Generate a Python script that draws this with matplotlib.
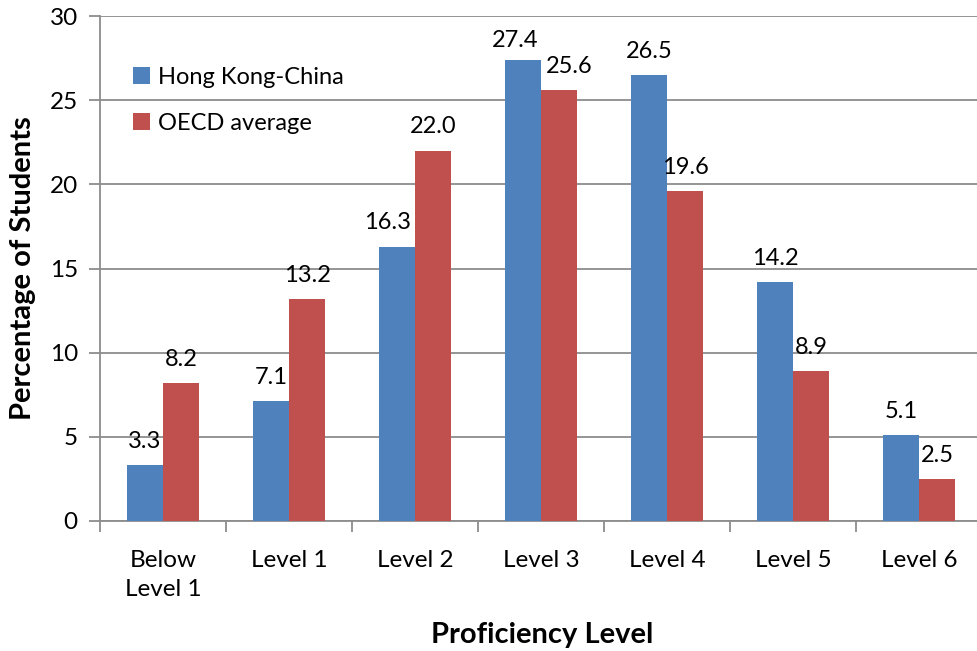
#!/usr/bin/env python3
"""Bar chart of proficiency level distribution: Hong Kong-China vs OECD average."""

import matplotlib
matplotlib.use('Agg')
from matplotlib import pyplot as plt
import numpy as np

levels = ['Below\nLevel 1', 'Level 1', 'Level 2', 'Level 3', 'Level 4', 'Level 5', 'Level 6']
hong_kong = [3.3, 7.1, 16.3, 27.4, 26.5, 14.2, 5.1]
oecd = [8.2, 13.2, 22.0, 25.6, 19.6, 8.9, 2.5]
y_ticks = [0, 5, 10, 15, 20, 25, 30]


def main():
    plt.rcParams['font.family'] = ['Lato', 'DejaVu Sans']
    fig = plt.figure(figsize=(9.77, 6.51), dpi=100)
    ax = fig.add_axes([0.1024, 0.1997, 0.9028, 0.7757])

    x = np.arange(len(levels))
    w = 0.286
    b1 = ax.bar(x - w / 2, hong_kong, w, color='#4F81BD', label='Hong Kong-China', zorder=3)
    b2 = ax.bar(x + w / 2, oecd, w, color='#C0504D', label='OECD average', zorder=3)
    lab1 = ax.bar_label(b1, fmt='%.1f', padding=9.5, fontsize=17)
    lab2 = ax.bar_label(b2, fmt='%.1f', padding=9.5, fontsize=17)
    # nudge labels that would collide with the neighbouring bars
    lab1[2].xyann = (-7, 9.5)
    lab1[3].xyann = (-6, 6)
    lab2[3].xyann = (7, 9.5)

    ax.set_xlim(-0.5, len(levels) - 0.5)
    ax.set_ylim(0, 30)
    ax.set_yticks(y_ticks)
    ax.yaxis.grid(True, color='#8c8c8c', linewidth=1.3, zorder=0)
    ax.tick_params(axis='y', labelsize=17.5, length=8, width=1.3, color='#8c8c8c', pad=8)

    ax.set_xticks(x)
    ax.set_xticklabels(levels, fontsize=17.5, linespacing=1.45)
    ax.set_xticks(np.arange(len(levels) + 1) - 0.5, minor=True)
    ax.tick_params(axis='x', which='major', length=0, pad=21)
    ax.tick_params(axis='x', which='minor', length=8, width=1.3, color='#8c8c8c')

    for side in ['top', 'right']:
        ax.spines[side].set_visible(False)
    for side in ['left', 'bottom']:
        ax.spines[side].set_color('#8c8c8c')
        ax.spines[side].set_linewidth(1.3)

    ax.set_ylabel('Percentage of Students', fontsize=21, fontweight='bold', labelpad=10)
    fig.text(0.555, 0.012, 'Proficiency Level', fontsize=21, fontweight='bold', ha='center')

    ax.legend(loc='upper left', bbox_to_anchor=(0.013, 0.941), frameon=False, fontsize=17,
              handlelength=0.75, handleheight=0.75, handletextpad=0.3, labelspacing=1.05)

    fig.savefig('out.png', dpi=100)


if __name__ == '__main__':
    main()
